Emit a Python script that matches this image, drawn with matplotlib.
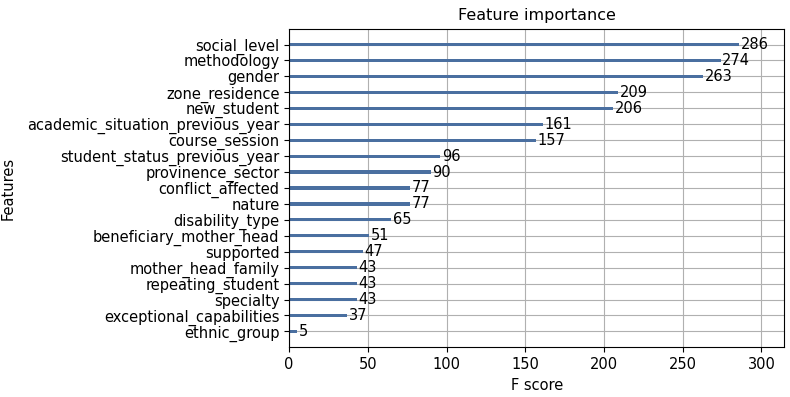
import matplotlib
matplotlib.use("Agg")
import matplotlib.pyplot as plt

# feature importance (F score), bottom to top
features = ['ethnic_group', 'exceptional_capabilities', 'specialty', 'repeating_student',
            'mother_head_family', 'supported', 'beneficiary_mother_head', 'disability_type',
            'nature', 'conflict_affected', 'provinence_sector', 'student_status_previous_year',
            'course_session', 'academic_situation_previous_year', 'new_student',
            'zone_residence', 'gender', 'methodology', 'social_level']
scores = [5, 37, 43, 43, 43, 47, 51, 65, 77, 77, 90, 96, 157, 161, 206, 209, 263, 274, 286]

plt.rcParams['font.size'] = 10.5

fig = plt.figure(figsize=(7.9, 3.97), dpi=100)
ax = fig.add_axes([0.366, 0.125, 0.627, 0.803])

ylocs = list(range(len(features)))
ax.barh(ylocs, scores, height=0.2, align='center', color='#4a6fa0')
for x, y in zip(scores, ylocs):
    ax.text(x + 1, y, x, va='center')

ax.set_yticks(ylocs)
ax.set_yticklabels(features)
ax.set_xlim(0, max(scores) * 1.1)
ax.set_ylim(-1, len(features))
ax.set_xticks([0, 50, 100, 150, 200, 250, 300])
ax.grid(True)
ax.set_axisbelow(True)
ax.set_title('Feature importance', fontsize=11.5)
ax.set_xlabel('F score')
ax.set_ylabel('Features', labelpad=8)

fig.savefig('out.png', dpi=100)
